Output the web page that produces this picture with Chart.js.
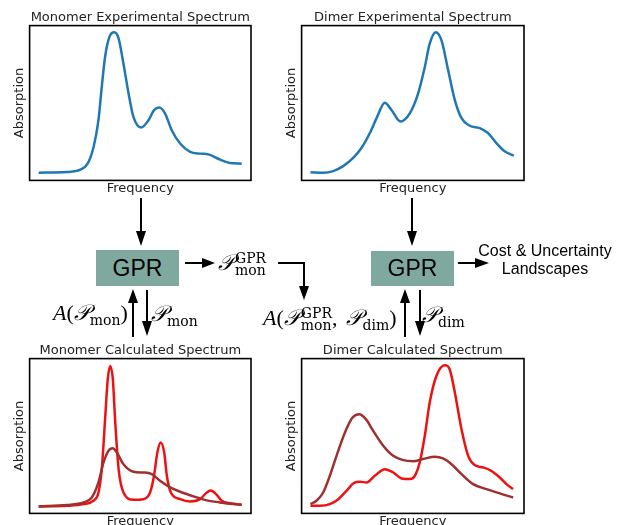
<!DOCTYPE html>
<html>
<head>
<meta charset="utf-8">
<script src="https://cdn.jsdelivr.net/npm/chart.js@4.4.0/dist/chart.umd.min.js"></script>
<style>
  html, body { margin: 0; padding: 0; background: #fff; }
  #wrap { position: relative; width: 623px; height: 525px; overflow: hidden; background: #fff; }
  .plot { position: absolute; }
  .gpr { position: absolute; background: #7fa99f; color: #000; font-family: "Liberation Sans", Arial, sans-serif;
         font-size: 23px; display: flex; align-items: center; justify-content: center; }
  .txt { position: absolute; font-family: "Liberation Sans", Arial, sans-serif; font-size: 16px; text-align: center; line-height: 18px; }
  .m { position: absolute; font-family: "Liberation Serif", "DejaVu Serif", serif; font-size: 22px; white-space: nowrap; line-height: 24px; }
  .m i { font-style: italic; }
  .ss { display: inline-block; vertical-align: -5px; font-family: "DejaVu Serif", serif; font-size: 14px; line-height: 12px; text-align: left; }
  .ss span { display: block; }
  .sb { font-family: "DejaVu Serif", serif; font-size: 14px; vertical-align: -5px; }
  svg { position: absolute; left: 0; top: 0; }
</style>
</head>
<body>
<div id="wrap">
  <div class="plot" style="left:12px;top:0px;"><canvas id="c1" width="241" height="196"></canvas></div>
  <div class="plot" style="left:284px;top:0px;"><canvas id="c2" width="242" height="196"></canvas></div>
  <div class="plot" style="left:12px;top:339px;"><canvas id="c3" width="241" height="190"></canvas></div>
  <div class="plot" style="left:284px;top:339px;"><canvas id="c4" width="242" height="190"></canvas></div>

  <svg width="623" height="525">
    <g stroke="#000" stroke-width="2" fill="none">
      <line x1="141" y1="198" x2="141" y2="233"/>
      <line x1="185" y1="263" x2="204" y2="263"/>
      <polyline points="278,263 304,263 304,287"/>
      <line x1="133" y1="337" x2="133" y2="302"/>
      <line x1="147" y1="290" x2="147" y2="323"/>
      <line x1="412" y1="198" x2="412" y2="233"/>
      <line x1="458" y1="263" x2="477" y2="263"/>
      <line x1="405" y1="337" x2="405" y2="302"/>
      <line x1="420" y1="290" x2="420" y2="323"/>
    </g>
    <g fill="#000">
      <polygon points="136,231 146,231 141,246"/>
      <polygon points="202,258 202,268 215,263"/>
      <polygon points="299,286 309,286 304,300"/>
      <polygon points="128,303 138,303 133,289"/>
      <polygon points="142,321 152,321 147,336"/>
      <polygon points="407,231 417,231 412,246"/>
      <polygon points="475,258 475,268 489,263"/>
      <polygon points="400,303 410,303 405,289"/>
      <polygon points="415,321 425,321 420,336"/>
    </g>
  </svg>

  <div class="gpr" style="left:96px;top:250px;width:83px;height:36px;">GPR</div>
  <div class="gpr" style="left:371px;top:251px;width:83px;height:35px;">GPR</div>

  <div class="txt" style="left:470px;top:242px;width:150px;">Cost &amp; Uncertainty<br>Landscapes</div>

  <div class="m" style="left:218px;top:251px;"><i>𝒫</i><span class="ss" style="margin-left:1px;"><span>GPR</span><span>mon</span></span></div>
  <div class="m" style="left:53px;top:301px;"><i>A</i>(<i>𝒫</i><span class="sb">mon</span>)</div>
  <div class="m" style="left:151px;top:302px;"><i>𝒫</i><span class="sb">mon</span></div>
  <div class="m" style="left:263px;top:306px;"><i>A</i>(<i>𝒫</i><span class="ss" style="margin-left:1px;"><span>GPR</span><span>mon</span></span>,<i style="margin-left:9px;">𝒫</i><span class="sb">dim</span>)</div>
  <div class="m" style="left:422px;top:303px;"><i>𝒫</i><span class="sb">dim</span></div>
</div>

<script>
// monomer experimental spectrum
const monoExpX = [4.1, 16.8, 22.9, 26.2, 28.9, 31.1, 32.6, 34.1, 36.1, 38.2, 40.2, 42.1, 44.7, 46.9, 50.4, 53.7, 56.2, 58.6, 61.2, 64.2, 68.0, 72.5, 77.0, 80.8, 86.0, 90.5, 95.8];
const monoExpY = [0.050, 0.054, 0.069, 0.108, 0.216, 0.389, 0.605, 0.799, 0.929, 0.957, 0.918, 0.778, 0.562, 0.410, 0.341, 0.389, 0.454, 0.471, 0.432, 0.324, 0.238, 0.184, 0.173, 0.168, 0.134, 0.112, 0.108];

// dimer experimental spectrum
const dimExpX = [4.0, 9.7, 14.2, 18.7, 23.2, 26.9, 30.7, 34.0, 37.4, 40.4, 44.5, 48.7, 52.4, 55.4, 57.6, 60.3, 62.9, 65.9, 68.9, 71.9, 75.6, 80.1, 83.8, 87.6, 91.3, 95.4];
const dimExpY = [0.053, 0.049, 0.060, 0.092, 0.145, 0.209, 0.306, 0.412, 0.502, 0.455, 0.380, 0.434, 0.562, 0.733, 0.883, 0.957, 0.904, 0.711, 0.519, 0.402, 0.353, 0.338, 0.306, 0.241, 0.188, 0.160];

// monomer calculated spectra
const monoCalcRedX = [4.1, 16.8, 24.4, 28.9, 31.1, 32.6, 34.1, 35.3, 36.4, 37.6, 38.6, 40.2, 42.4, 46.9, 51.4, 54.4, 56.2, 57.7, 59.2, 60.8, 62.0, 63.8, 68.0, 72.5, 77.0, 79.7, 81.8, 84.2, 86.8, 90.5, 95.8];
const monoCalcRedY = [0.045, 0.049, 0.060, 0.082, 0.135, 0.286, 0.609, 0.867, 0.953, 0.867, 0.609, 0.286, 0.135, 0.088, 0.092, 0.135, 0.243, 0.393, 0.458, 0.393, 0.243, 0.135, 0.092, 0.077, 0.092, 0.131, 0.148, 0.125, 0.082, 0.065, 0.056];
const monoCalcBrownX = [4.1, 16.8, 24.4, 28.1, 31.1, 33.4, 35.6, 37.6, 39.4, 42.4, 46.9, 51.4, 55.2, 58.9, 63.5, 68.0, 74.0, 80.0, 86.0, 90.5, 95.8];
const monoCalcBrownY = [0.045, 0.054, 0.071, 0.103, 0.200, 0.329, 0.404, 0.421, 0.393, 0.318, 0.269, 0.264, 0.254, 0.211, 0.168, 0.140, 0.110, 0.084, 0.071, 0.062, 0.056];

// dimer calculated spectra
const dimCalcRedX = [4.0, 8.2, 12.7, 16.5, 20.2, 23.5, 26.2, 29.2, 32.9, 37.4, 41.2, 44.9, 48.7, 50.9, 53.1, 55.4, 57.6, 60.6, 64.4, 66.6, 68.9, 71.9, 74.9, 77.8, 81.6, 85.3, 89.1, 92.1, 95.1];
const dimCalcRedY = [0.049, 0.049, 0.060, 0.092, 0.146, 0.196, 0.204, 0.200, 0.243, 0.286, 0.264, 0.226, 0.222, 0.243, 0.329, 0.502, 0.716, 0.888, 0.957, 0.930, 0.781, 0.544, 0.372, 0.312, 0.297, 0.275, 0.232, 0.189, 0.157];
const dimCalcBrownX = [4.0, 6.7, 9.7, 12.7, 15.7, 19.5, 22.9, 25.9, 28.9, 32.2, 36.7, 41.2, 45.7, 50.1, 54.6, 59.9, 63.6, 67.4, 71.9, 77.1, 83.1, 89.1, 95.1];
const dimCalcBrownY = [0.060, 0.082, 0.135, 0.243, 0.372, 0.523, 0.619, 0.641, 0.609, 0.533, 0.437, 0.372, 0.344, 0.337, 0.351, 0.366, 0.355, 0.318, 0.254, 0.189, 0.157, 0.129, 0.103];

const BLUE = '#1f77b4';
const RED = '#ee1111';
const BROWN = '#a03030';

function pts(xs, ys) {
  return xs.map((x, i) => ({ x: x, y: ys[i] }));
}

const framePlugin = {
  id: 'frame',
  afterDatasetsDraw(chart) {
    const { ctx, chartArea: a } = chart;
    ctx.save();
    ctx.strokeStyle = '#000';
    ctx.lineWidth = 1.6;
    ctx.strokeRect(a.left, a.top, a.right - a.left, a.bottom - a.top);
    ctx.restore();
  }
};

const labelFont = { family: 'DejaVu Sans', size: 13 };

function makeChart(id, title, datasets, titlePad) {
  new Chart(document.getElementById(id), {
    type: 'line',
    data: {
      datasets: datasets.map(d => ({
        data: d.data,
        borderColor: d.color,
        borderWidth: 2.5,
        pointRadius: 0,
        fill: false,
        cubicInterpolationMode: 'monotone'
      }))
    },
    options: {
      responsive: false,
      animation: false,
      events: [],
      layout: { padding: { left: 0, right: 2, top: 0, bottom: 0 }, autoPadding: false },
      plugins: {
        legend: { display: false },
        tooltip: { enabled: false },
        title: {
          display: true,
          fullSize: false,   // centre over the plot box, like matplotlib
          text: title,
          color: '#222',
          font: { family: 'DejaVu Sans', size: 13, weight: 'normal' },
          padding: { top: titlePad, bottom: 0 }
        }
      },
      scales: {
        x: {
          type: 'linear', min: 0, max: 100,
          ticks: { display: false },
          grid: { display: false, drawTicks: false },
          border: { display: false },
          title: { display: true, text: 'Frequency', color: '#222', font: labelFont, padding: { top: 0, bottom: 0 } }
        },
        y: {
          min: 0, max: 1,
          ticks: { display: false },
          grid: { display: false, drawTicks: false },
          border: { display: false },
          title: { display: true, text: 'Absorption', color: '#222', font: labelFont, padding: { top: 0, bottom: 2 } }
        }
      }
    },
    plugins: [framePlugin]
  });
}

makeChart('c1', 'Monomer Experimental Spectrum', [
  { data: pts(monoExpX, monoExpY), color: BLUE }
], 10);
makeChart('c2', 'Dimer Experimental Spectrum', [
  { data: pts(dimExpX, dimExpY), color: BLUE }
], 10);
makeChart('c3', 'Monomer Calculated Spectrum', [
  { data: pts(monoCalcBrownX, monoCalcBrownY), color: BROWN },
  { data: pts(monoCalcRedX, monoCalcRedY), color: RED }
], 4);
makeChart('c4', 'Dimer Calculated Spectrum', [
  { data: pts(dimCalcBrownX, dimCalcBrownY), color: BROWN },
  { data: pts(dimCalcRedX, dimCalcRedY), color: RED }
], 4);
</script>
</body>
</html>
